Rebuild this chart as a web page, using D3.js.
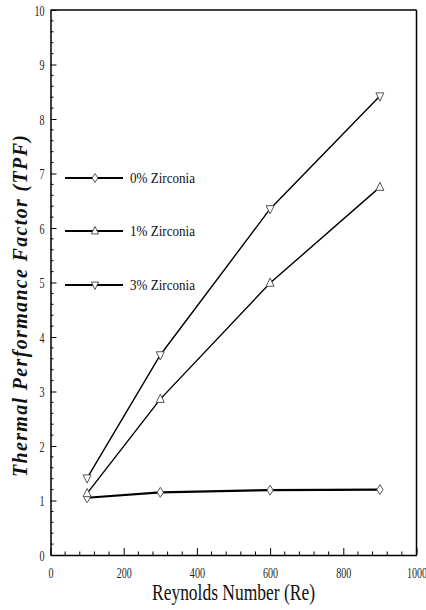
<!DOCTYPE html>
<html>
<head>
<meta charset="utf-8">
<script src="https://cdn.jsdelivr.net/npm/d3@7"></script>
<style>
  body { margin: 0; background: #fff; }
  svg { display: block; }
  svg text { font-family: "Liberation Serif", "Times New Roman", serif; }
</style>
</head>
<body>
<div id="chart"></div>
<script>
// Reynolds numbers tested
const reynolds = [100, 300, 600, 900];
// Thermal performance factor for each zirconia loading
const tpf0 = [1.05, 1.15, 1.19, 1.2];
const tpf1 = [1.13, 2.86, 4.99, 6.75];
const tpf3 = [1.41, 3.67, 6.35, 8.42];
const seriesNames = ["0% Zirconia", "1% Zirconia", "3% Zirconia"];
const xTicks = [0, 200, 400, 600, 800, 1000];
const yTicks = [0, 1, 2, 3, 4, 5, 6, 7, 8, 9, 10];

const W = 426, H = 610;
const m = { left: 50.5, right: 9.5, top: 10, bottom: 55 };
const serif = '"Liberation Serif", "Times New Roman", serif';

const svg = d3.select("#chart").append("svg")
  .attr("width", W).attr("height", H)
  .style("font-family", serif);

const x = d3.scaleLinear().domain([0, 1000]).range([m.left, W - m.right]);
const y = d3.scaleLinear().domain([0, 10]).range([H - m.bottom, m.top]);

// minor ticks
const g = svg.append("g");
const xMinor = d3.range(0, 1001, 40).filter(v => v % 200 !== 0);
const yMinor = d3.range(0, 10.01, 0.2).map(v => +v.toFixed(1)).filter(v => Math.abs(v - Math.round(v)) > 1e-6);
g.selectAll(".xm").data(xMinor).join("line")
  .attr("x1", d => x(d)).attr("x2", d => x(d))
  .attr("y1", y(0)).attr("y2", y(0) - 3.5)
  .attr("stroke", "#000").attr("stroke-width", 1);
g.selectAll(".ym").data(yMinor).join("line")
  .attr("y1", d => y(d)).attr("y2", d => y(d))
  .attr("x1", x(0)).attr("x2", x(0) + 3)
  .attr("stroke", "#000").attr("stroke-width", 1);

// bottom axis, ticks pointing inward
const xAxis = svg.append("g")
  .attr("transform", `translate(0,${y(0)})`)
  .call(d3.axisBottom(x).tickValues(xTicks).tickFormat(d3.format("d"))
    .tickSizeInner(-7).tickSizeOuter(0).tickPadding(0));
xAxis.attr("font-family", null);
xAxis.select(".domain").attr("stroke-width", 1.5);
xAxis.selectAll(".tick line").attr("stroke-width", 1);
xAxis.selectAll(".tick text")
  .attr("y", 0).attr("dy", 0)
  .attr("transform", "translate(0,23) scale(0.72,1)")
  .style("font-family", serif).style("font-size", "14px").attr("fill", "#222");

// left axis
const yAxis = svg.append("g")
  .attr("transform", `translate(${x(0)},0)`)
  .call(d3.axisLeft(y).tickValues(yTicks).tickSizeInner(-6).tickSizeOuter(0).tickPadding(0));
yAxis.attr("font-family", null);
yAxis.select(".domain").attr("stroke-width", 1.5);
yAxis.selectAll(".tick line").attr("stroke-width", 1);
yAxis.selectAll(".tick text")
  .attr("x", 0).attr("dy", 0)
  .attr("transform", "translate(-6,5) scale(0.72,1)")
  .style("font-family", serif).style("font-size", "14px").attr("fill", "#222");

// top and right frame
svg.append("line").attr("x1", x(0)).attr("x2", x(1000)).attr("y1", y(10)).attr("y2", y(10))
  .attr("stroke", "#000").attr("stroke-width", 1.5);
svg.append("line").attr("x1", x(1000)).attr("x2", x(1000)).attr("y1", y(10)).attr("y2", y(0))
  .attr("stroke", "#000").attr("stroke-width", 1.5);

// markers
const markerPath = {
  diamond: s => `M0,${-s}L${s * 0.62},0L0,${s}L${-s * 0.62},0Z`,
  up: s => `M0,${-s}L${s * 0.8},${s * 0.65}L${-s * 0.8},${s * 0.65}Z`,
  down: s => `M0,${s}L${s * 0.8},${-s * 0.65}L${-s * 0.8},${-s * 0.65}Z`
};

const series = [
  { name: seriesNames[0], values: tpf0, marker: "diamond", width: 2.2 },
  { name: seriesNames[1], values: tpf1, marker: "up", width: 1.4 },
  { name: seriesNames[2], values: tpf3, marker: "down", width: 1.4 }
];

const line = d3.line().x(d => x(d[0])).y(d => y(d[1]));

series.forEach(s => {
  const pts = reynolds.map((r, i) => [r, s.values[i]]);
  svg.append("path").attr("d", line(pts))
    .attr("fill", "none").attr("stroke", "#000").attr("stroke-width", s.width);
  svg.append("g").selectAll("path").data(pts).join("path")
    .attr("transform", d => `translate(${x(d[0])},${y(d[1])})`)
    .attr("d", markerPath[s.marker](5))
    .attr("fill", "#fff").attr("stroke", "#444").attr("stroke-width", 0.9);
});

// legend
const legendY = [178, 231, 285];
series.forEach((s, i) => {
  const ly = legendY[i];
  svg.append("line").attr("x1", 65).attr("x2", 123).attr("y1", ly).attr("y2", ly)
    .attr("stroke", "#000").attr("stroke-width", 2.2);
  svg.append("path").attr("transform", `translate(95,${ly})`)
    .attr("d", markerPath[s.marker](4.5))
    .attr("fill", "#fff").attr("stroke", "#444").attr("stroke-width", 0.9);
  svg.append("text").attr("x", 130).attr("y", ly + 5)
    .attr("textLength", 65).attr("lengthAdjust", "spacingAndGlyphs")
    .style("font-family", serif).style("font-size", "15px")
    .attr("fill", "#111").text(s.name);
});

// axis titles
svg.append("text")
  .attr("x", 152).attr("y", 600)
  .attr("textLength", 163).attr("lengthAdjust", "spacingAndGlyphs")
  .style("font-family", serif).style("font-size", "23px")
  .attr("fill", "#111")
  .text("Reynolds Number (Re)");

svg.append("text")
  .attr("transform", `translate(27,477) rotate(-90)`)
  .attr("x", 0).attr("y", 0)
  .attr("textLength", 342).attr("lengthAdjust", "spacing")
  .style("font-family", serif).style("font-size", "20px")
  .style("font-weight", "bold").style("font-style", "italic")
  .attr("fill", "#111")
  .text("Thermal Performance Factor (TPF)");
</script>
</body>
</html>
